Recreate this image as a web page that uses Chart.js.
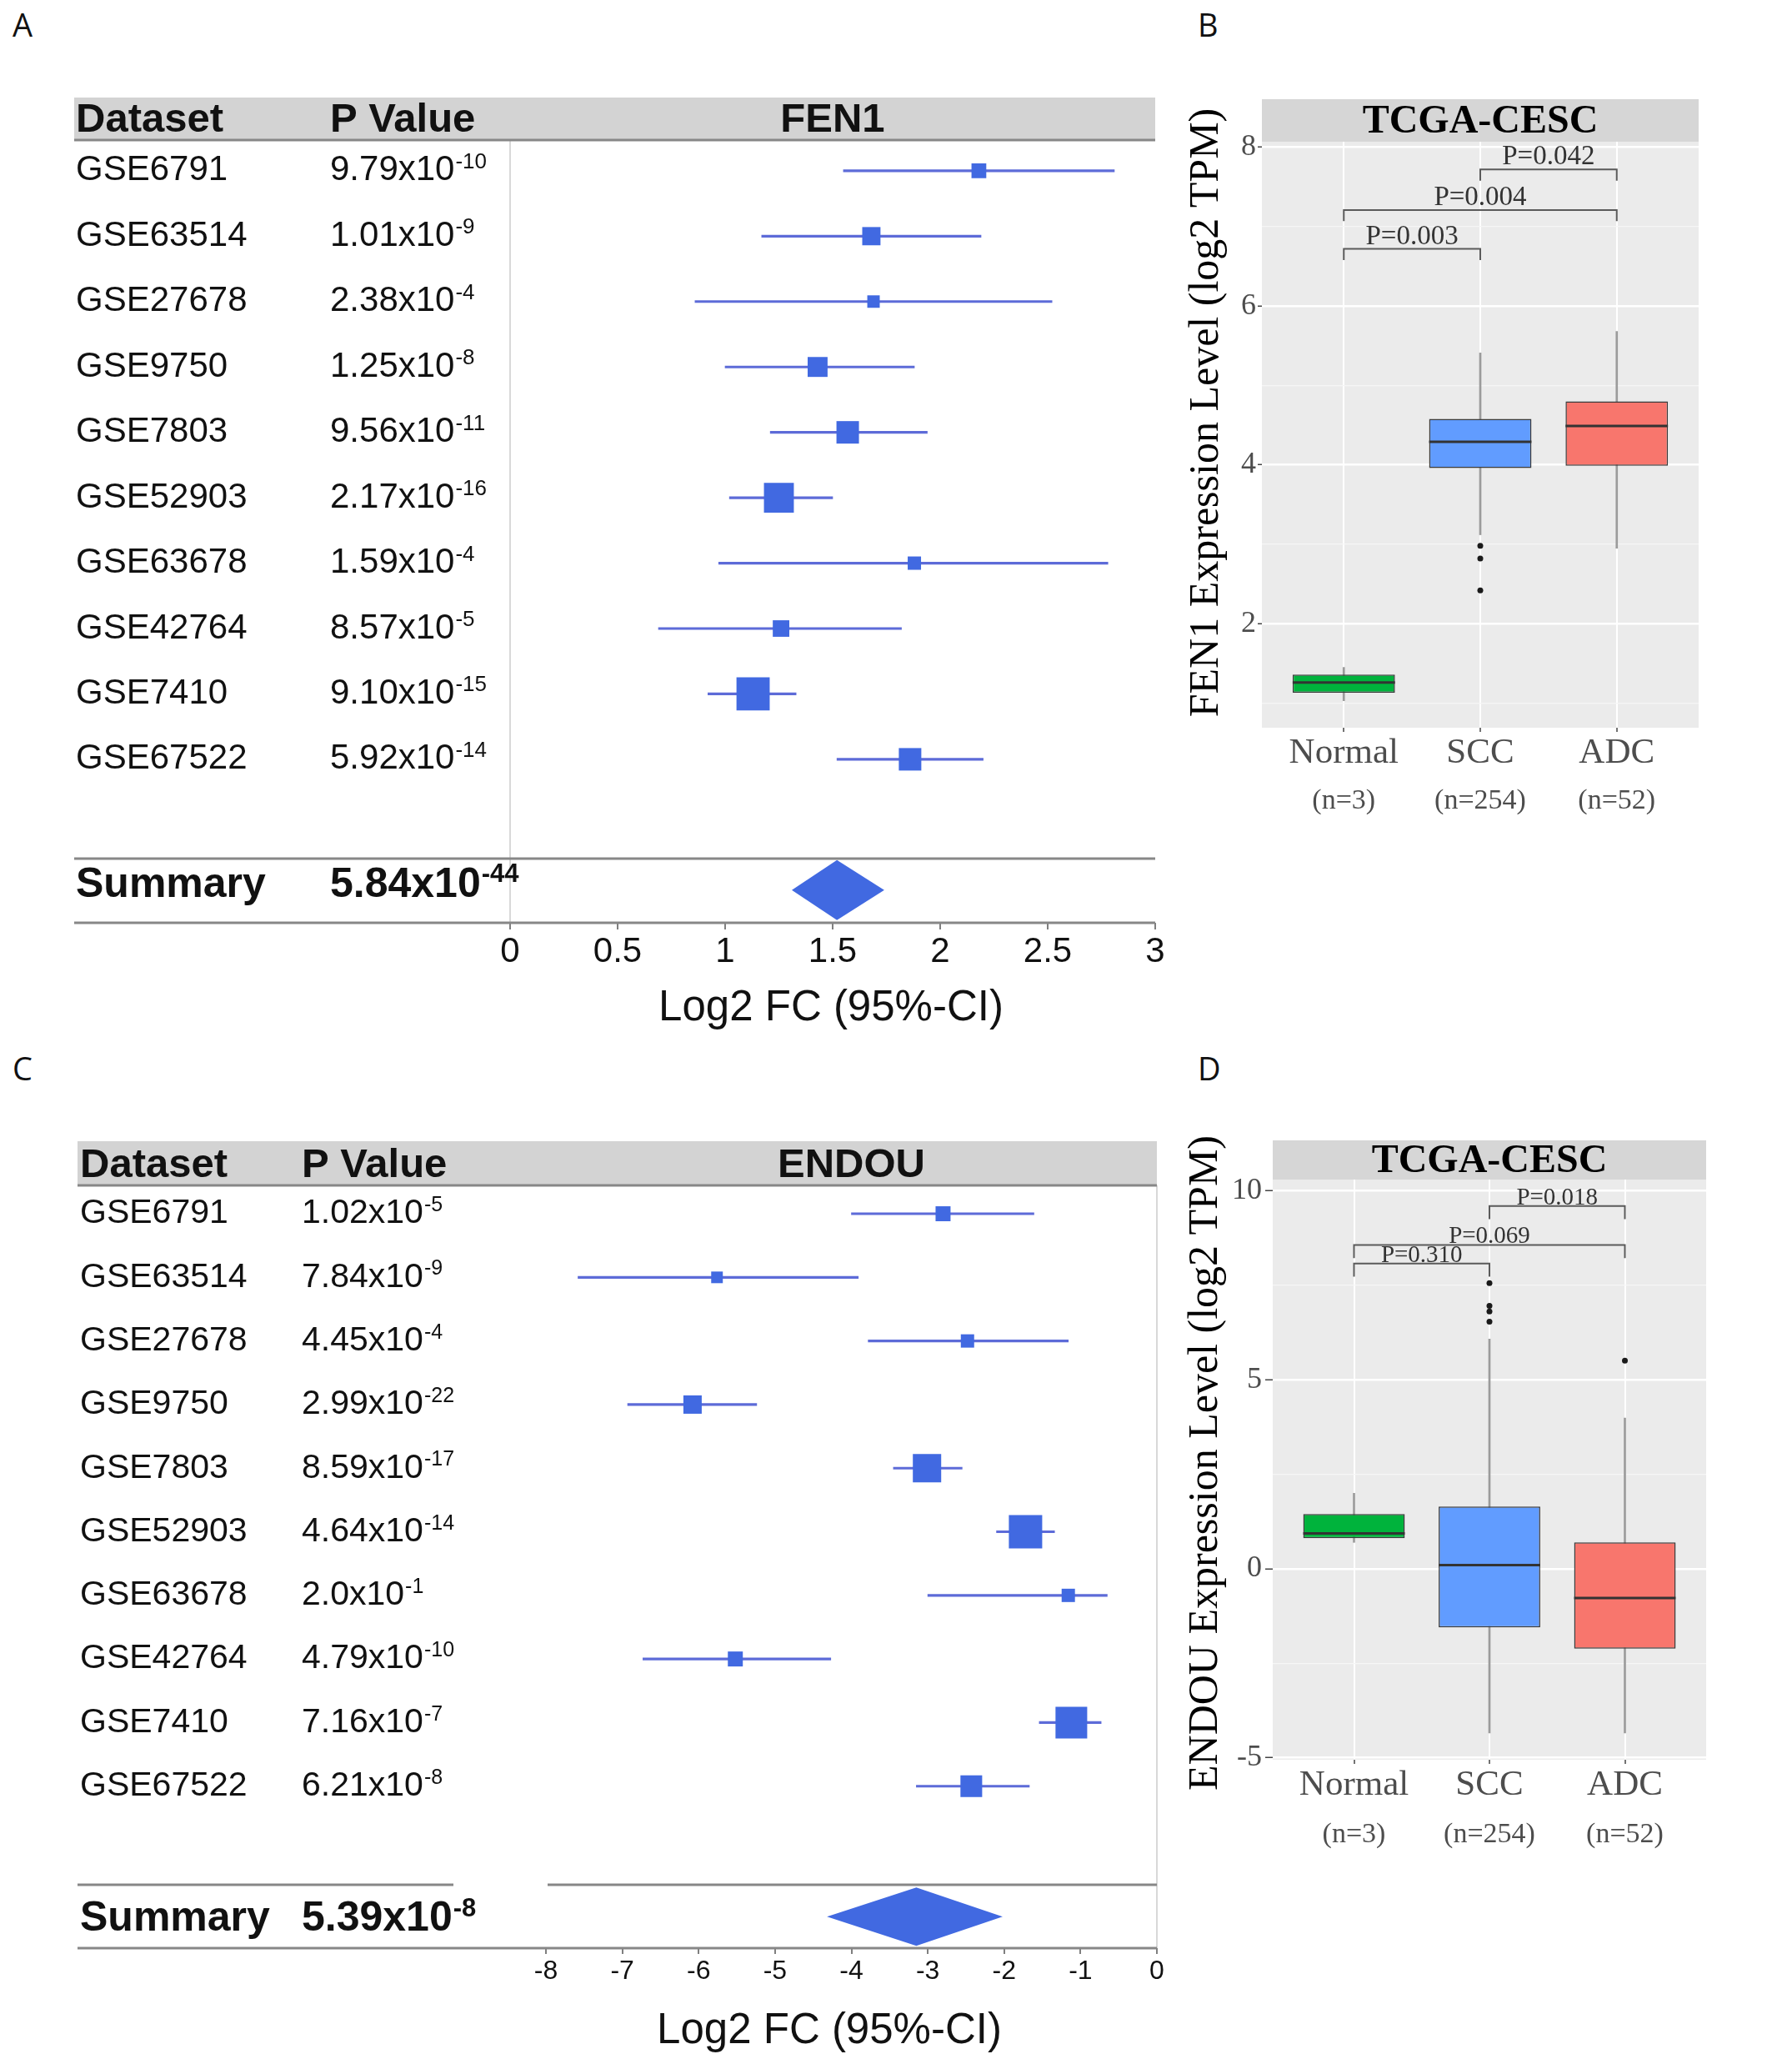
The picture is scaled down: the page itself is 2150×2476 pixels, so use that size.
<!DOCTYPE html>
<html>
<head>
<meta charset="utf-8">
<script src="https://cdn.jsdelivr.net/npm/chart.js@4.4.1/dist/chart.umd.min.js"></script>
<style>
  body { margin: 0; background: #fff; }
  #page { position: relative; width: 2150px; height: 2476px; overflow: hidden; background: #fff; }
  canvas { position: absolute; }
  .tag { position: absolute; font-family: "Open Sans", sans-serif; font-size: 38px; line-height: 1; color: #111; }
</style>
</head>
<body>
<div id="page">
  <div class="tag" style="left:15px;top:10px">A</div>
  <div class="tag" style="left:1437px;top:10px">B</div>
  <div class="tag" style="left:15px;top:1262px">C</div>
  <div class="tag" style="left:1437px;top:1262px">D</div>
  <canvas id="fen1Forest" width="1420" height="1260" style="left:0;top:0"></canvas>
  <canvas id="fen1Box" width="730" height="1000" style="left:1420px;top:0"></canvas>
  <canvas id="endouForest" width="1420" height="1216" style="left:0;top:1260px"></canvas>
  <canvas id="endouBox" width="730" height="1000" style="left:1420px;top:1260px"></canvas>
</div>
<script>
// studies (same order in both forest plots)
var studies = ['GSE6791', 'GSE63514', 'GSE27678', 'GSE9750', 'GSE7803', 'GSE52903', 'GSE63678', 'GSE42764', 'GSE7410', 'GSE67522'];

// A: FEN1 log2 FC with 95% CI
var fen1PBase = ['9.79', '1.01', '2.38', '1.25', '9.56', '2.17', '1.59', '8.57', '9.10', '5.92'];
var fen1PExp  = ['-10', '-9', '-4', '-8', '-11', '-16', '-4', '-5', '-15', '-14'];
var fen1Est   = [2.18, 1.68, 1.69, 1.43, 1.57, 1.25, 1.88, 1.26, 1.13, 1.86];
var fen1Lo    = [1.55, 1.17, 0.86, 1.00, 1.21, 1.02, 0.97, 0.69, 0.92, 1.52];
var fen1Hi    = [2.81, 2.19, 2.52, 1.88, 1.94, 1.50, 2.78, 1.82, 1.33, 2.20];
var fen1Weight = [4.8, 7.3, 3.4, 8.7, 11.1, 19.6, 3.9, 6.0, 24.2, 11.1];
var fen1Summary = [1.31, 1.52, 1.74];       // lower, estimate, upper
var fen1SummaryP = ['5.84', '-44'];
var fen1Ticks = [0, 0.5, 1, 1.5, 2, 2.5, 3];

// C: ENDOU log2 FC with 95% CI
var endouPBase = ['1.02', '7.84', '4.45', '2.99', '8.59', '4.64', '2.0', '4.79', '7.16', '6.21'];
var endouPExp  = ['-5', '-9', '-4', '-22', '-17', '-14', '-1', '-10', '-7', '-8'];
var endouEst   = [-2.80, -5.76, -2.48, -6.08, -3.01, -1.72, -1.16, -5.52, -1.12, -2.43];
var endouLo    = [-4.00, -7.58, -3.78, -6.93, -3.45, -2.10, -3.00, -6.73, -1.54, -3.15];
var endouHi    = [-1.61, -3.91, -1.16, -5.24, -2.55, -1.34, -0.65, -4.27, -0.73, -1.67];
var endouWeight = [4.8, 2.9, 3.8, 7.2, 17.2, 23.8, 3.8, 4.8, 21.5, 10.1];
var endouSummary = [-4.32, -3.15, -2.02];
var endouSummaryP = ['5.39', '-8'];
var endouTicks = [-8, -7, -6, -5, -4, -3, -2, -1, 0];

// B / D: TCGA-CESC boxplots
var groups = ['Normal', 'SCC', 'ADC'];
var groupN = ['(n=3)', '(n=254)', '(n=52)'];

var fen1WLo = [1.03, 3.12, 2.95];
var fen1Q1  = [1.13, 3.96, 3.99];
var fen1Med = [1.26, 4.29, 4.49];
var fen1Q3  = [1.36, 4.58, 4.80];
var fen1WHi = [1.45, 5.41, 5.68];
var fen1OutGroup = [2, 2, 2];
var fen1OutVal   = [2.98, 2.82, 2.42];
var fen1SigFrom = [1, 1, 2];
var fen1SigTo   = [2, 3, 3];
var fen1SigY    = [6.72, 7.21, 7.72];
var fen1SigText = ['P=0.003', 'P=0.004', 'P=0.042'];
var fen1YTicks = [1, 2, 3, 4, 5, 6, 7, 8];

var endouWLo = [0.70, -4.34, -4.34];
var endouQ1  = [0.81, -1.55, -2.11];
var endouMed = [0.94, 0.10, -0.77];
var endouQ3  = [1.45, 1.65, 0.70];
var endouWHi = [2.00, 6.08, 3.99];
var endouOutGroup = [2, 2, 2, 2, 3];
var endouOutVal   = [7.56, 6.96, 6.81, 6.54, 5.51];
var endouSigFrom = [1, 1, 2];
var endouSigTo   = [2, 3, 3];
var endouSigY    = [8.08, 8.57, 9.60];
var endouSigText = ['P=0.310', 'P=0.069', 'P=0.018'];
var endouYTicks = [-5, -2.5, 0, 2.5, 5, 7.5, 10];

var SANS = '"Liberation Sans", Arial, sans-serif';
var SERIF = '"Liberation Serif", "Times New Roman", serif';

function drawPower(ctx, base, exp, x, y, size, bold) {
  var w = bold ? 'bold ' : '';
  ctx.font = w + size + 'px ' + SANS;
  ctx.textAlign = 'left';
  ctx.textBaseline = 'middle';
  var txt = base + 'x10';
  ctx.fillText(txt, x, y);
  var bw = ctx.measureText(txt).width;
  ctx.font = w + Math.round(size * 0.62) + 'px ' + SANS;
  ctx.textBaseline = 'alphabetic';
  ctx.fillText(exp, x + bw + 1, y - size * 0.07);
}

function hline(ctx, x1, x2, y) {
  ctx.beginPath();
  ctx.moveTo(x1, y);
  ctx.lineTo(x2, y);
  ctx.stroke();
}

function makeForest(id, d) {
  var rows = studies.map(function (s, i) { return i; });

  var decor = {
    id: 'forestDecor',
    afterDraw: function (chart) {
      var ctx = chart.ctx, xs = chart.scales.x, ys = chart.scales.y, ar = chart.chartArea;
      ctx.save();
      // header band
      ctx.fillStyle = '#d3d3d3';
      ctx.fillRect(d.tableLeft, d.headTop, ar.right - d.tableLeft, ar.top - d.headTop);
      ctx.strokeStyle = '#878787';
      ctx.lineWidth = 3;
      hline(ctx, d.tableLeft, ar.right, ar.top);

      ctx.fillStyle = '#111';
      ctx.font = 'bold 49px ' + SANS;
      ctx.textBaseline = 'middle';
      ctx.textAlign = 'left';
      ctx.fillText('Dataset', d.nameX, d.headTextY);
      ctx.fillText('P Value', d.pX, d.headTextY);
      ctx.textAlign = 'center';
      ctx.fillText(d.gene, (ar.left + ar.right) / 2, d.headTextY);

      // study rows
      rows.forEach(function (i) {
        var py = ys.getPixelForValue(i);
        ctx.font = d.rowSize + 'px ' + SANS;
        ctx.textAlign = 'left';
        ctx.textBaseline = 'middle';
        ctx.fillText(studies[i], d.nameX, py);
        drawPower(ctx, d.pBase[i], d.pExp[i], d.pX, py, d.rowSize, false);
      });

      // summary block
      var lineY = ys.getPixelForValue(d.summaryLineRow);
      ctx.strokeStyle = '#878787';
      ctx.lineWidth = 3;
      if (d.gap) {
        hline(ctx, d.tableLeft, d.gap[0], lineY);
        hline(ctx, d.gap[1], ar.right, lineY);
      } else {
        hline(ctx, d.tableLeft, ar.right, lineY);
      }
      hline(ctx, d.tableLeft, ar.right, ar.bottom);

      var sy = ys.getPixelForValue(d.summaryRow);
      ctx.fillStyle = '#111';
      ctx.font = 'bold 50px ' + SANS;
      ctx.textAlign = 'left';
      ctx.textBaseline = 'middle';
      ctx.fillText('Summary', d.nameX, sy + d.sumTextShift);
      drawPower(ctx, d.sumP[0], d.sumP[1], d.pX, sy + d.sumTextShift, 50, true);

      // pooled estimate diamond
      ctx.fillStyle = '#4169e1';
      ctx.beginPath();
      ctx.moveTo(xs.getPixelForValue(d.summary[0]), sy);
      ctx.lineTo(xs.getPixelForValue(d.summary[1]), sy - d.diamondHalf);
      ctx.lineTo(xs.getPixelForValue(d.summary[2]), sy);
      ctx.lineTo(xs.getPixelForValue(d.summary[1]), sy + d.diamondHalf);
      ctx.closePath();
      ctx.fill();

      // axis title
      ctx.fillStyle = '#111';
      ctx.font = '51px ' + SANS;
      ctx.textAlign = 'center';
      ctx.fillText('Log2 FC (95%-CI)', d.titleX, d.titleY);
      ctx.restore();
    }
  };

  return new Chart(document.getElementById(id), {
    type: 'scatter',
    data: {
      datasets: [
        {
          type: 'bar',
          indexAxis: 'y',
          grouped: false,
          barThickness: 2.5,
          backgroundColor: '#5d6bd8',
          data: rows.map(function (i) { return { y: i, x: [d.lo[i], d.hi[i]] }; }),
          order: 2
        },
        {
          type: 'scatter',
          data: rows.map(function (i) { return { x: d.est[i], y: i }; }),
          pointStyle: 'rect',
          pointRadius: d.weight.map(function (w) { return d.sideK * Math.sqrt(w) / Math.SQRT2; }),
          pointBackgroundColor: '#4169e1',
          pointBorderWidth: 0,
          order: 1
        }
      ]
    },
    options: {
      animation: false,
      responsive: false,
      devicePixelRatio: 1,
      events: [],
      layout: { padding: { left: d.left, right: d.right, top: d.top, bottom: 0 } },
      plugins: { legend: { display: false }, tooltip: { enabled: false } },
      scales: {
        x: {
          type: 'linear',
          min: d.ticks[0],
          max: d.ticks[d.ticks.length - 1],
          offset: false,
          afterBuildTicks: function (s) { s.ticks = d.ticks.map(function (v) { return { value: v }; }); },
          afterFit: function (s) { s.height = d.axisH; },
          border: { display: false },
          grid: {
            offset: false,
            color: function (c) { return (c.tick && c.tick.value === 0) ? '#d8d8d8' : 'rgba(0,0,0,0)'; },
            lineWidth: 2,
            tickLength: d.tickLen,
            tickWidth: 2,
            tickColor: '#7f7f7f'
          },
          ticks: {
            font: { family: SANS, size: d.tickSize },
            color: '#111',
            padding: 2,
            maxRotation: 0,
            autoSkip: false,
            callback: function (v) { return String(v); }
          }
        },
        y: { type: 'linear', display: false, reverse: true, offset: false, grid: { offset: false }, min: d.yMin, max: d.yMax }
      }
    },
    plugins: [decor]
  });
}

function makeBox(id, d) {
  var cats = [1, 2, 3];
  var colors = ['#00b33c', '#619cff', '#f8766d'];

  var decor = {
    id: 'boxDecor',
    beforeDraw: function (chart) {
      var ctx = chart.ctx, ar = chart.chartArea;
      ctx.save();
      ctx.fillStyle = '#ebebeb';
      ctx.fillRect(ar.left, ar.top, ar.right - ar.left, ar.bottom - ar.top);
      ctx.fillStyle = '#d6d6d6';
      ctx.fillRect(ar.left, ar.top - d.stripH, ar.right - ar.left, d.stripH);
      ctx.restore();
    },
    afterDraw: function (chart) {
      var ctx = chart.ctx, ar = chart.chartArea, xs = chart.scales.x, ys = chart.scales.y;
      ctx.save();
      ctx.fillStyle = '#000';
      ctx.textAlign = 'center';
      ctx.textBaseline = 'middle';
      ctx.font = 'bold 48px ' + SERIF;
      ctx.fillText('TCGA-CESC', (ar.left + ar.right) / 2, ar.top - d.stripH / 2 + 2);

      // significance labels
      ctx.fillStyle = '#333';
      ctx.font = d.sigSize + 'px ' + SERIF;
      ctx.textBaseline = 'alphabetic';
      d.sigText.forEach(function (t, i) {
        var mx = xs.getPixelForValue((d.sigFrom[i] + d.sigTo[i]) / 2);
        ctx.fillText(t, mx, ys.getPixelForValue(d.sigY[i]) - d.sigGap);
      });

      // group sizes under the category labels
      ctx.fillStyle = '#4d4d4d';
      ctx.font = '34px ' + SERIF;
      ctx.textBaseline = 'middle';
      groupN.forEach(function (t, i) {
        ctx.fillText(t, xs.getPixelForValue(cats[i]), d.nY);
      });

      // y axis title
      ctx.translate(d.titleX, d.titleY);
      ctx.rotate(-Math.PI / 2);
      ctx.fillStyle = '#000';
      ctx.font = '50px ' + SERIF;
      ctx.fillText(d.yTitle, 0, 0);
      ctx.restore();
    }
  };

  var datasets = [
    {
      type: 'bar', grouped: false, barThickness: 2,
      backgroundColor: '#9b9b9b',
      data: cats.map(function (c, i) { return { x: c, y: [d.wLo[i], d.wHi[i]] }; }),
      order: 5
    },
    {
      type: 'bar', grouped: false, categoryPercentage: 0.75, barPercentage: 1,
      backgroundColor: colors, borderColor: '#3a3a3a', borderWidth: 1.5, borderSkipped: false,
      data: cats.map(function (c, i) { return { x: c, y: [d.q1[i], d.q3[i]] }; }),
      order: 4
    },
    {
      type: 'scatter',
      data: cats.map(function (c, i) { return { x: c, y: d.med[i] }; }),
      pointStyle: 'line',
      pointRadius: function (c) {
        var s = c.chart.scales.x;
        return s.getPixelForValue(1.375) - s.getPixelForValue(1);
      },
      pointBorderWidth: 3, pointBorderColor: '#333',
      order: 3
    },
    {
      type: 'scatter',
      data: d.outGroup.map(function (g, i) { return { x: g, y: d.outVal[i] }; }),
      pointStyle: 'circle', pointRadius: 3.5, pointBackgroundColor: '#1a1a1a', pointBorderWidth: 0,
      order: 2
    }
  ];
  d.sigText.forEach(function (t, i) {
    var top = d.sigY[i];
    datasets.push({
      type: 'line', showLine: true, fill: false,
      borderColor: '#5a5a5a', borderWidth: 2, pointRadius: 0, tension: 0,
      data: [
        { x: d.sigFrom[i], y: top - d.sigDrop },
        { x: d.sigFrom[i], y: top },
        { x: d.sigTo[i], y: top },
        { x: d.sigTo[i], y: top - d.sigDrop }
      ],
      order: 1
    });
  });

  return new Chart(document.getElementById(id), {
    type: 'scatter',
    data: { datasets: datasets },
    options: {
      animation: false,
      responsive: false,
      devicePixelRatio: 1,
      events: [],
      layout: { padding: { left: 0, right: d.right, top: d.top, bottom: 0 } },
      plugins: { legend: { display: false }, tooltip: { enabled: false } },
      scales: {
        x: {
          type: 'linear', min: 0.4, max: 3.6, offset: false,
          afterBuildTicks: function (s) { s.ticks = cats.map(function (v) { return { value: v }; }); },
          afterFit: function (s) { s.height = d.xAxisH; },
          border: { display: false },
          grid: { offset: false, color: '#ffffff', lineWidth: 2, tickLength: 5, tickWidth: 1.5, tickColor: '#444' },
          ticks: {
            font: { family: SERIF, size: 43 }, color: '#4d4d4d', padding: 0, maxRotation: 0, autoSkip: false,
            callback: function (v) { return groups[v - 1]; }
          }
        },
        y: {
          type: 'linear', min: d.yMin, max: d.yMax, offset: false,
          afterBuildTicks: function (s) { s.ticks = d.yTicks.map(function (v) { return { value: v }; }); },
          afterFit: function (s) { s.width = d.yAxisW; },
          border: { display: false },
          grid: {
            offset: false,
            color: function (c) { return d.isMajor(c.tick.value) ? '#ffffff' : '#f6f6f6'; },
            lineWidth: function (c) { return d.isMajor(c.tick.value) ? 2.5 : 1.2; },
            tickLength: d.yTickLen, tickWidth: 1.5,
            tickColor: function (c) { return d.isMajor(c.tick.value) ? '#444' : 'rgba(0,0,0,0)'; }
          },
          ticks: {
            font: { family: SERIF, size: 36 }, color: '#4d4d4d', padding: d.yTickPad, autoSkip: false,
            callback: function (v) { return d.isMajor(v) ? String(v) : ''; }
          }
        }
      }
    },
    plugins: [decor]
  });
}

makeForest('fen1Forest', {
  gene: 'FEN1', pBase: fen1PBase, pExp: fen1PExp, est: fen1Est, lo: fen1Lo, hi: fen1Hi,
  weight: fen1Weight, summary: fen1Summary, sumP: fen1SummaryP, ticks: fen1Ticks,
  sideK: 8.1, left: 612, right: 34, top: 168, axisH: 153, yMin: -0.47, yMax: 11.5,
  tableLeft: 89, headTop: 117, headTextY: 144, nameX: 91, pX: 396, rowSize: 42,
  summaryRow: 11, summaryLineRow: 10.52, sumTextShift: -6, gap: null, diamondHalf: 36,
  tickLen: 8, tickSize: 42, titleX: 997, titleY: 1224
});

makeForest('endouForest', {
  gene: 'ENDOU', pBase: endouPBase, pExp: endouPExp, est: endouEst, lo: endouLo, hi: endouHi,
  weight: endouWeight, summary: endouSummary, sumP: endouSummaryP, ticks: endouTicks,
  sideK: 8.2, left: 655, right: 32, top: 162, axisH: 139, yMin: -0.446, yMax: 11.546,
  tableLeft: 93, headTop: 109, headTextY: 138, nameX: 96, pX: 362, rowSize: 41,
  summaryRow: 11.05, summaryLineRow: 10.55, sumTextShift: 3, gap: [544, 657], diamondHalf: 35,
  tickLen: 7, tickSize: 32, titleX: 995, titleY: 1191
});

makeBox('fen1Box', {
  wLo: fen1WLo, q1: fen1Q1, med: fen1Med, q3: fen1Q3, wHi: fen1WHi,
  outGroup: fen1OutGroup, outVal: fen1OutVal,
  sigFrom: fen1SigFrom, sigTo: fen1SigTo, sigY: fen1SigY, sigText: fen1SigText,
  sigDrop: 0.14, sigGap: 6, sigSize: 33,
  yTicks: fen1YTicks, yMin: 0.69, yMax: 8.07,
  isMajor: function (v) { return v % 2 === 0; },
  right: 112, top: 170, yAxisW: 94, xAxisH: 127, yTickLen: 5, yTickPad: 2,
  stripH: 51, nY: 961, titleX: 28, titleY: 495,
  yTitle: 'FEN1 Expression Level (log2 TPM)'
});

makeBox('endouBox', {
  wLo: endouWLo, q1: endouQ1, med: endouMed, q3: endouQ3, wHi: endouWHi,
  outGroup: endouOutGroup, outVal: endouOutVal,
  sigFrom: endouSigFrom, sigTo: endouSigTo, sigY: endouSigY, sigText: endouSigText,
  sigDrop: 0.35, sigGap: 2, sigSize: 29,
  yTicks: endouYTicks, yMin: -5.05, yMax: 10.3,
  isMajor: function (v) { return v % 5 === 0; },
  right: 103, top: 155, yAxisW: 107, xAxisH: 149, yTickLen: 9, yTickPad: 4,
  stripH: 47, nY: 941, titleX: 27, titleY: 495,
  yTitle: 'ENDOU Expression Level (log2 TPM)'
});
</script>
</body>
</html>
